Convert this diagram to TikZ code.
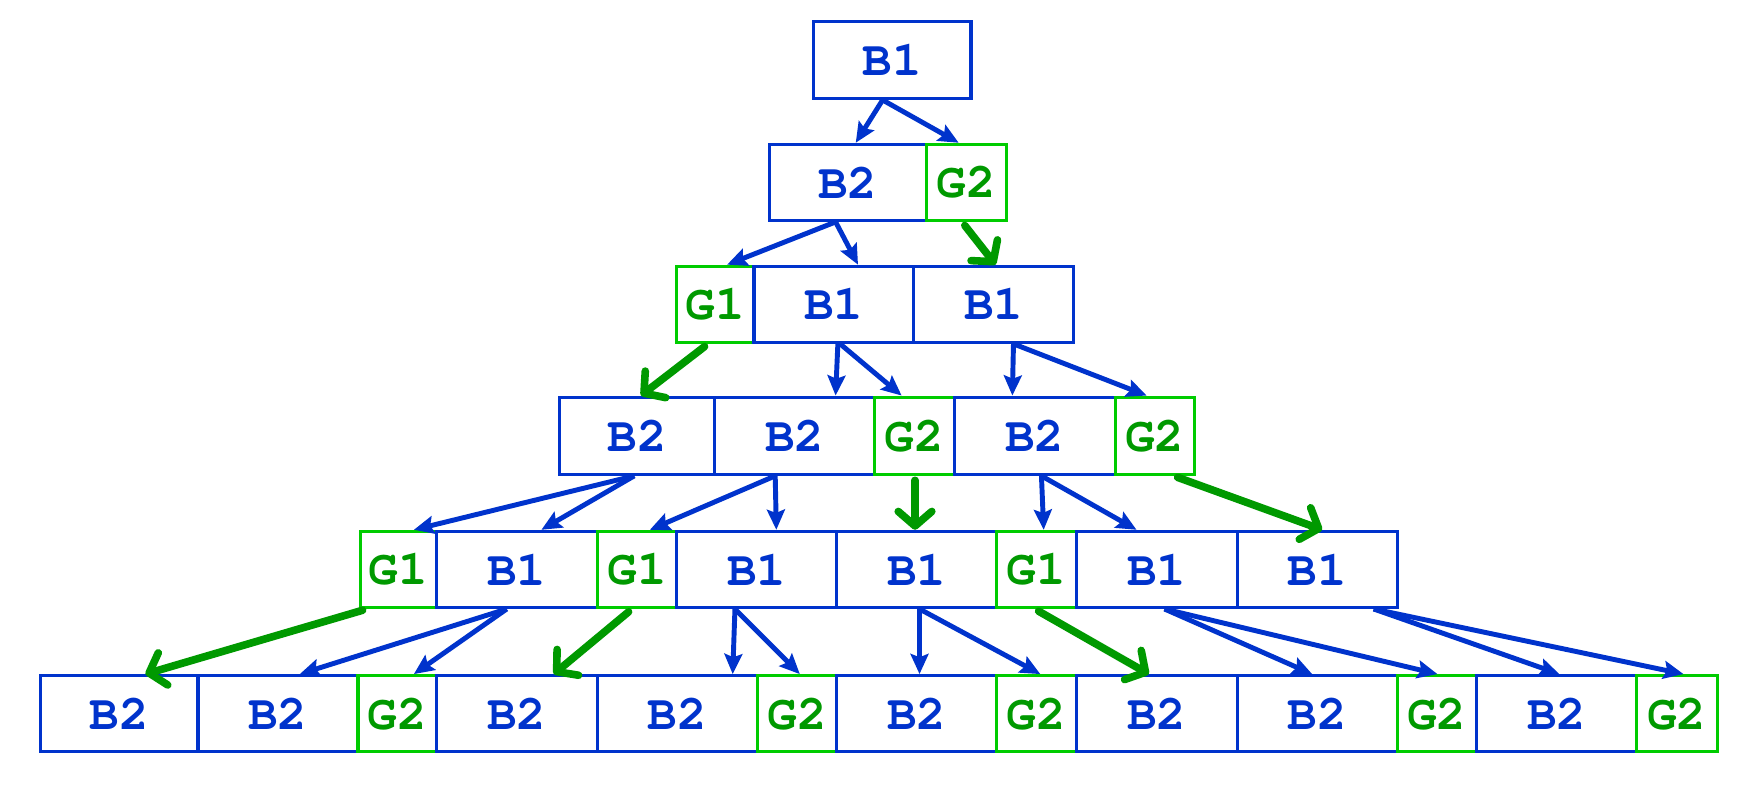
\documentclass[tikz,border=0pt]{standalone}
\usepackage{fontspec}
\newfontfamily\cellfam{TeX Gyre Cursor}
\usetikzlibrary{arrows.meta}
\definecolor{myblue}{HTML}{0033CC}
\definecolor{mygreen}{HTML}{009900}
\definecolor{mygreenbox}{HTML}{00CC00}
\tikzset{
  cell/.style={draw, line width=1.4pt, inner sep=0pt, anchor=center,
    font=\cellfam\bfseries\fontsize{22}{22}\selectfont},
  bcell/.style={cell, draw=myblue, text=myblue},
  gcell/.style={cell, draw=mygreenbox, text=mygreen},
  barrow/.style={draw=myblue, line width=2.2pt, -{Stealth[length=9pt,width=8pt,inset=1.5pt]}},
  garrow/.style={draw=mygreen, line width=3.4pt, line cap=round, shorten <=2pt,
    -{Straight Barb[length=6.5pt,width=15pt,line cap=round,line join=round]}},
}
\newcommand\mycell[7]{\node[#2, minimum width={(#4-#3)*0.5pt}, minimum height={(#6-#5)*0.5pt}] (#1) at ({(#3+#4)/2},{(#5+#6)/2}) {#7};}
\begin{document}
\begin{tikzpicture}[x=0.5pt,y=-0.5pt]
\useasboundingbox (0,0) rectangle (1568,712);
% row 0
\mycell{r0}{bcell}{727}{868}{19}{88}{B1}
% row 1
\mycell{r1a}{bcell}{688}{828}{129}{197}{B2}
\mycell{r1b}{gcell}{828}{900}{129}{197}{G2}
% row 2
\mycell{r2a}{gcell}{605}{674}{238}{306}{G1}
\mycell{r2b}{bcell}{674}{817}{238}{306}{B1}
\mycell{r2c}{bcell}{817}{960}{238}{306}{B1}
% row 3
\mycell{r3a}{bcell}{500}{639}{355}{424}{B2}
\mycell{r3b}{bcell}{639}{782}{355}{424}{B2}
\mycell{r3c}{gcell}{782}{853}{355}{424}{G2}
\mycell{r3d}{bcell}{853}{997}{355}{424}{B2}
\mycell{r3e}{gcell}{997}{1068}{355}{424}{G2}
% row 4
\mycell{r4a}{gcell}{322}{390}{475}{543}{G1}
\mycell{r4b}{bcell}{390}{534}{475}{543}{B1}
\mycell{r4c}{gcell}{534}{605}{475}{543}{G1}
\mycell{r4d}{bcell}{605}{748}{475}{543}{B1}
\mycell{r4e}{bcell}{748}{891}{475}{543}{B1}
\mycell{r4f}{gcell}{891}{962}{475}{543}{G1}
\mycell{r4g}{bcell}{962}{1106}{475}{543}{B1}
\mycell{r4h}{bcell}{1106}{1249}{475}{543}{B1}
% row 5
\mycell{r5a}{bcell}{36}{177}{604}{672}{B2}
\mycell{r5b}{bcell}{177}{320}{604}{672}{B2}
\mycell{r5c}{gcell}{320}{390}{604}{672}{G2}
\mycell{r5d}{bcell}{390}{534}{604}{672}{B2}
\mycell{r5e}{bcell}{534}{677}{604}{672}{B2}
\mycell{r5f}{gcell}{677}{748}{604}{672}{G2}
\mycell{r5g}{bcell}{748}{891}{604}{672}{B2}
\mycell{r5h}{gcell}{891}{962}{604}{672}{G2}
\mycell{r5i}{bcell}{962}{1106}{604}{672}{B2}
\mycell{r5j}{bcell}{1106}{1249}{604}{672}{B2}
\mycell{r5k}{gcell}{1249}{1320}{604}{672}{G2}
\mycell{r5l}{bcell}{1320}{1463}{604}{672}{B2}
\mycell{r5m}{gcell}{1463}{1535}{604}{672}{G2}
% arrows row0 -> row1
\draw[barrow] (r0.south -| 789,0) -- (r1a.north -| 765,0);
\draw[barrow] (r0.south -| 789,0) -- (r1b.north -| 857,0);
% row1 -> row2
\draw[barrow] (r1a.south -| 747,0) -- (r2a.north -| 650,0);
\draw[barrow] (r1a.south -| 747,0) -- (r2b.north -| 767,0);
\draw[garrow] (r1b.south -| 860,0) -- (r2c.north -| 890,0);
% row2 -> row3
\draw[garrow] (r2a.south -| 633,0) -- (r3a.north -| 573,0);
\draw[barrow] (r2b.south -| 749,0) -- (r3b.north -| 747,0);
\draw[barrow] (r2b.south -| 751,0) -- (r3c.north -| 806,0);
\draw[barrow] (r2c.south -| 906,0) -- (r3d.north -| 905,0);
\draw[barrow] (r2c.south -| 906,0) -- (r3e.north -| 1025,0);
% row3 -> row4
\draw[barrow] (r3a.south -| 567,0) -- (r4a.north -| 370,0);
\draw[barrow] (r3a.south -| 567,0) -- (r4b.north -| 484,0);
\draw[barrow] (r3b.south -| 693,0) -- (r4c.north -| 581,0);
\draw[barrow] (r3b.south -| 693,0) -- (r4d.north -| 694,0);
\draw[garrow] (r3c.south -| 818,0) -- (r4e.north -| 818,0);
\draw[barrow] (r3d.south -| 931,0) -- (r4f.north -| 933,0);
\draw[barrow] (r3d.south -| 931,0) -- (r4g.north -| 1016,0);
\draw[garrow] (r3e.south -| 1049,0) -- (r4h.north -| 1182,0);
% row4 -> row5
\draw[garrow] (r4a.south -| 328,0) -- (r5a.north -| 130,0);
\draw[barrow] (r4b.south -| 453,0) -- (r5b.north -| 268,0);
\draw[barrow] (r4b.south -| 453,0) -- (r5c.north -| 370,0);
\draw[garrow] (r4c.south -| 565,0) -- (r5d.north -| 495,0);
\draw[barrow] (r4d.south -| 657,0) -- (r5e.north -| 655,0);
\draw[barrow] (r4d.south -| 657,0) -- (r5f.north -| 715,0);
\draw[barrow] (r4e.south -| 822,0) -- (r5g.north -| 822,0);
\draw[barrow] (r4e.south -| 822,0) -- (r5h.north -| 930,0);
\draw[garrow] (r4f.south -| 925,0) -- (r5i.north -| 1027,0);
\draw[barrow] (r4g.south -| 1041,0) -- (r5j.north -| 1173,0);
\draw[barrow] (r4g.south -| 1041,0) -- (r5k.north -| 1285,0);
\draw[barrow] (r4h.south -| 1228,0) -- (r5l.north -| 1394,0);
\draw[barrow] (r4h.south -| 1228,0) -- (r5m.north -| 1505,0);
\end{tikzpicture}
\end{document}
